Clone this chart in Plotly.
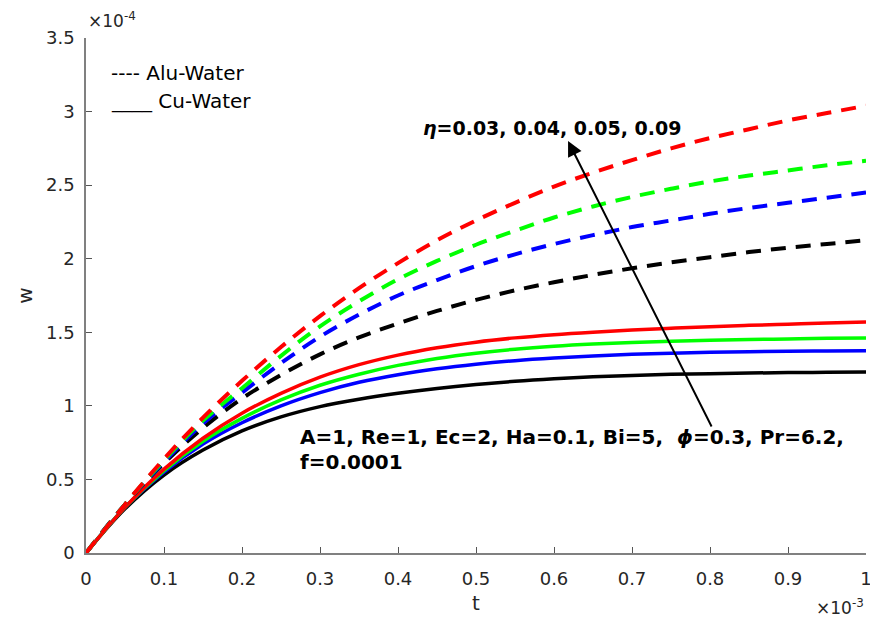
import plotly.graph_objects as go

t = [0, 0.05, 0.1, 0.15, 0.2, 0.25, 0.3, 0.35, 0.4, 0.45, 0.5,
     0.55, 0.6, 0.65, 0.7, 0.75, 0.8, 0.85, 0.9, 0.95, 1.0]

# Alu-Water (dashed), eta = 0.03 (black), 0.04 (blue), 0.05 (green), 0.09 (red)
alu_black = [0, 0.33, 0.61, 0.85, 1.05, 1.21, 1.35, 1.465, 1.56, 1.645, 1.72,
             1.785, 1.84, 1.89, 1.935, 1.975, 2.01, 2.045, 2.075, 2.10, 2.125]
alu_blue = [0, 0.33, 0.62, 0.88, 1.09, 1.29, 1.47, 1.62, 1.75, 1.855, 1.95,
            2.03, 2.10, 2.16, 2.215, 2.26, 2.305, 2.345, 2.38, 2.415, 2.45]
alu_green = [0, 0.33, 0.63, 0.90, 1.12, 1.34, 1.54, 1.71, 1.86, 1.985, 2.095,
             2.19, 2.28, 2.355, 2.42, 2.475, 2.525, 2.565, 2.60, 2.635, 2.665]
alu_red = [0, 0.33, 0.64, 0.92, 1.17, 1.40, 1.61, 1.80, 1.97, 2.125, 2.26,
           2.38, 2.49, 2.585, 2.67, 2.75, 2.82, 2.88, 2.94, 2.99, 3.04]

# Cu-Water (solid)
cu_black = [0, 0.30, 0.53, 0.70, 0.83, 0.925, 0.995, 1.045, 1.085, 1.118, 1.145,
            1.167, 1.184, 1.197, 1.207, 1.214, 1.219, 1.223, 1.226, 1.228, 1.23]
cu_blue = [0, 0.31, 0.55, 0.74, 0.885, 1.0, 1.09, 1.16, 1.212, 1.252, 1.283,
           1.307, 1.325, 1.339, 1.35, 1.358, 1.364, 1.368, 1.371, 1.373, 1.375]
cu_green = [0, 0.31, 0.56, 0.76, 0.915, 1.04, 1.14, 1.215, 1.275, 1.322, 1.358,
            1.385, 1.405, 1.42, 1.431, 1.439, 1.446, 1.451, 1.455, 1.459, 1.462]
cu_red = [0, 0.31, 0.57, 0.78, 0.95, 1.085, 1.195, 1.28, 1.345, 1.395, 1.433,
          1.462, 1.484, 1.501, 1.515, 1.527, 1.538, 1.547, 1.555, 1.563, 1.57]

x_ticks = [0, 0.1, 0.2, 0.3, 0.4, 0.5, 0.6, 0.7, 0.8, 0.9, 1]
x_labels = ["0", "0.1", "0.2", "0.3", "0.4", "0.5", "0.6", "0.7", "0.8", "0.9", "1"]
y_ticks = [0, 0.5, 1, 1.5, 2, 2.5, 3, 3.5]
y_labels = ["0", "0.5", "1", "1.5", "2", "2.5", "3", "3.5"]

FONT = "DejaVu Sans, sans-serif"
TXT = "#262626"
fig = go.Figure()

cu = [(cu_black, "black"), (cu_blue, "#0000ff"), (cu_green, "#00ff00"), (cu_red, "#ff0000")]
alu = [(alu_black, "black"), (alu_blue, "#0000ff"), (alu_green, "#00ff00"), (alu_red, "#ff0000")]

for ys, c in cu:
    fig.add_trace(go.Scatter(x=t, y=ys, mode="lines", line=dict(color=c, width=3.5, shape="spline"),
                             showlegend=False, hoverinfo="skip"))
for ys, c in alu:
    fig.add_trace(go.Scatter(x=t, y=ys, mode="lines",
                             line=dict(color=c, width=4, dash="15px,10px", shape="spline"),
                             showlegend=False, hoverinfo="skip"))

axis_common = dict(showline=True, linecolor="#808080", linewidth=1.5, ticks="inside",
                   ticklen=6, tickcolor="#555555", showgrid=False, zeroline=False,
                   ticklabeloverflow="allow", automargin=False,
                   tickfont=dict(family=FONT, size=18, color=TXT))

fig.update_xaxes(range=[0, 1], tickvals=x_ticks, ticktext=x_labels, ticklabelstandoff=9,
                 title=dict(text="t", font=dict(family=FONT, size=20, color=TXT), standoff=8),
                 **axis_common)
fig.update_yaxes(range=[0, 3.5], tickvals=y_ticks, ticktext=y_labels, ticklabelstandoff=6,
                 title=dict(text="w", font=dict(family=FONT, size=20, color=TXT), standoff=8),
                 **axis_common)

ann = []
ann.append(dict(xref="paper", yref="paper", x=0.0, y=1.035, xanchor="left", yanchor="middle",
                text="×10<sup>-4</sup>", showarrow=False,
                font=dict(family=FONT, size=17, color=TXT)))
ann.append(dict(xref="paper", yref="paper", x=1.0, y=-0.105, xanchor="right", yanchor="middle",
                text="×10<sup>-3</sup>", showarrow=False,
                font=dict(family=FONT, size=17, color=TXT)))
ann.append(dict(xref="x", yref="y", x=0.03, y=3.26, xanchor="left", yanchor="middle",
                text="---- Alu-Water", showarrow=False,
                font=dict(family=FONT, size=20, color="black")))
ann.append(dict(xref="x", yref="y", x=0.03, y=3.07, xanchor="left", yanchor="middle",
                text="____ Cu-Water", showarrow=False,
                font=dict(family=FONT, size=20, color="black")))
# arrow
ann.append(dict(xref="x", yref="y", axref="x", ayref="y", x=0.618, y=2.80, ax=0.803, ay=0.85,
                showarrow=True, arrowhead=2, arrowsize=1.5, arrowwidth=2, arrowcolor="black", text=""))
ann.append(dict(xref="x", yref="y", x=0.597, y=2.89, xanchor="center", yanchor="middle",
                text="<i>η</i>=0.03, 0.04, 0.05, 0.09", showarrow=False,
                font=dict(family=FONT, size=19, color="black", weight="bold")))
ann.append(dict(xref="x", yref="y", x=0.272, y=0.79, xanchor="left", yanchor="middle",
                text="A=1, Re=1, Ec=2, Ha=0.1, Bi=5,  <i>ϕ</i>=0.3, Pr=6.2,", showarrow=False,
                font=dict(family=FONT, size=20, color="black", weight="bold")))
ann.append(dict(xref="x", yref="y", x=0.272, y=0.62, xanchor="left", yanchor="middle",
                text="f=0.0001", showarrow=False,
                font=dict(family=FONT, size=20, color="black", weight="bold")))

fig.update_layout(width=870, height=618, margin=dict(l=86, r=4, t=38, b=65),
                  plot_bgcolor="white", paper_bgcolor="white", annotations=ann)

fig.write_html("out.html")
